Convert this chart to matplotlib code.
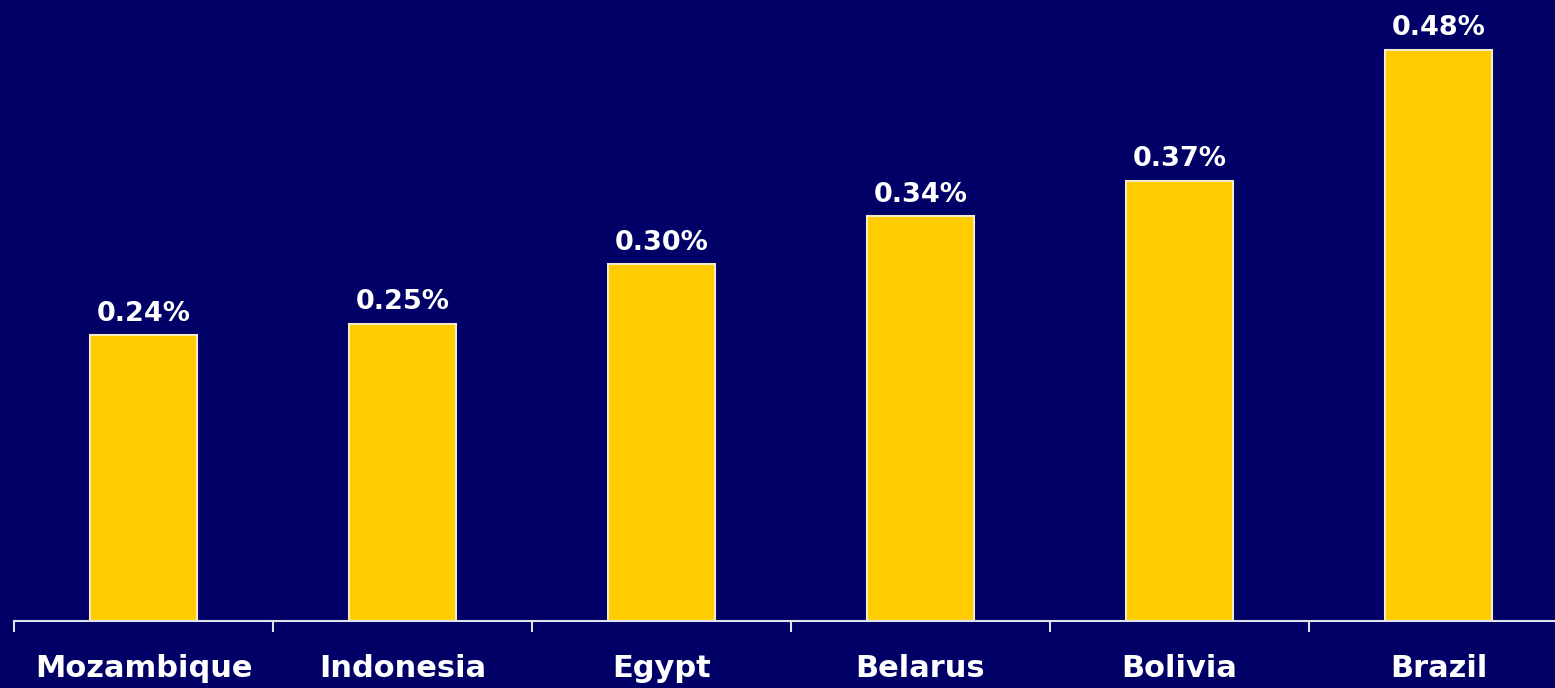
import numpy as np
import matplotlib.pyplot as plt

countries = ["Mozambique", "Indonesia", "Egypt", "Belarus", "Bolivia", "Brazil"]
values = [0.24, 0.25, 0.30, 0.34, 0.37, 0.48]
value_labels = ["0.24%", "0.25%", "0.30%", "0.34%", "0.37%", "0.48%"]

bg = "#000066"
fig = plt.figure(figsize=(15.55, 6.88), dpi=100, facecolor=bg)
ax = fig.add_axes([14 / 1555, 67 / 688, 1554 / 1555, 595 / 688])
ax.set_facecolor(bg)

x = np.arange(len(countries))
ax.bar(x, values, width=0.41, color="#FFCC00", edgecolor="#F2EBC8", linewidth=1.5)

for xi, v, lab in zip(x, values, value_labels):
    ax.annotate(lab, (xi, v), xytext=(0, 6), textcoords="offset points",
                ha="center", va="bottom", color="white", fontsize=19.5,
                fontweight="bold")

ax.set_xlim(-0.5, 5.5)
ax.set_ylim(0, 0.5)

for s in ["top", "left", "right"]:
    ax.spines[s].set_visible(False)
ax.spines["bottom"].set_color("#E0E0F0")
ax.spines["bottom"].set_linewidth(1.5)

ax.set_yticks([])
ax.set_xticks(x)
ax.set_xticklabels(countries, color="white", fontsize=22, fontweight="bold")
ax.tick_params(axis="x", which="major", length=0, pad=24)
ax.set_xticks(np.arange(-0.5, 6.0, 1.0), minor=True)
ax.tick_params(axis="x", which="minor", length=8, width=1.5, color="#E0E0F0")

fig.savefig("out.png", dpi=100, facecolor=bg)
